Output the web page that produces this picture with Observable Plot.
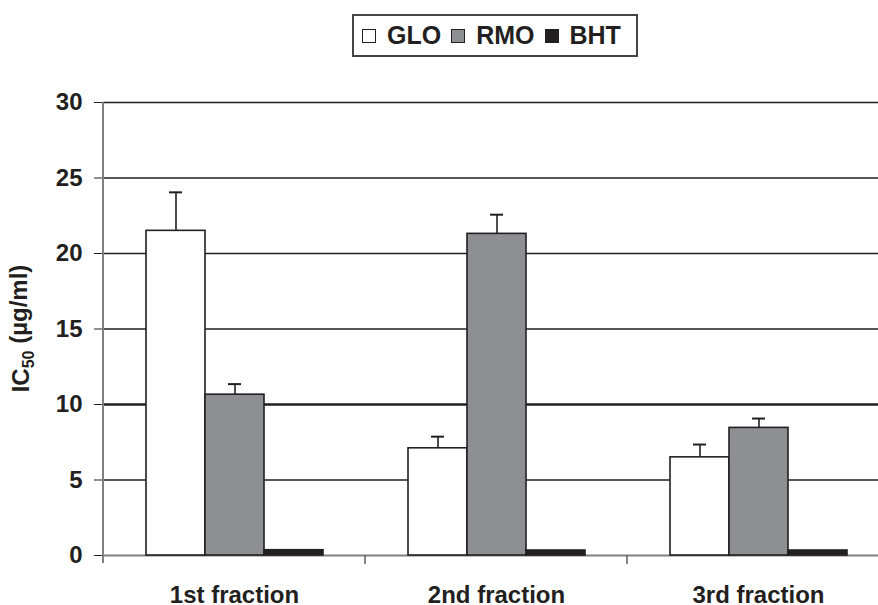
<!DOCTYPE html>
<html><head><meta charset="utf-8">
<script src="https://cdn.jsdelivr.net/npm/d3@7"></script>
<script src="https://cdn.jsdelivr.net/npm/@observablehq/plot@0.6"></script>
<style>
body{margin:0;background:#fff;font-family:"Liberation Sans",Arial,sans-serif;}
#legend{position:relative;height:70px;width:878px;}
#legend .box{position:absolute;left:352px;top:14px;width:282px;height:39px;border:2px solid #444;display:flex;align-items:center;box-sizing:content-box;padding-left:0;}
#legend .item{display:flex;align-items:center;margin-left:8px;}
#legend .sw{width:12px;height:12px;border:1.6px solid #231f20;margin-right:11px;}
#legend .lab{font-size:25px;font-weight:bold;color:#231f20;margin-right:2px;}
</style></head>
<body>
<div id="legend"><div class="box"></div></div>
<div id="chart"></div>
<script>
const fractions = ["1st fraction", "2nd fraction", "3rd fraction"];
const series = ["GLO", "RMO", "BHT"];
const gloValues = [21.5, 7.1, 6.5];
const rmoValues = [10.65, 21.3, 8.45];
const bhtValues = [0.35, 0.33, 0.33];
const gloErrorTops = [24.05, 7.87, 7.35];
const rmoErrorTops = [11.35, 22.57, 9.07];
const seriesColors = ["#ffffff", "#8e8f93", "#231f20"];
const yTicks = [0, 5, 10, 15, 20, 25, 30];

const rows = [];
fractions.forEach((f, i) => {
  rows.push({fraction: f, series: "GLO", value: gloValues[i], top: gloErrorTops[i]});
  rows.push({fraction: f, series: "RMO", value: rmoValues[i], top: rmoErrorTops[i]});
  rows.push({fraction: f, series: "BHT", value: bhtValues[i], top: null});
});
const errRows = rows.filter(d => d.top != null);

// legend
const box = d3.select("#legend .box");
series.forEach((s, i) => {
  const it = box.append("div").attr("class", "item");
  it.append("div").attr("class", "sw").style("background", seriesColors[i]);
  it.append("div").attr("class", "lab").text(s);
});

const chart = Plot.plot({
  width: 878, height: 535,
  marginTop: 32, marginBottom: 50, marginLeft: 103, marginRight: -11,
  style: {fontFamily: '"Liberation Sans", Arial, sans-serif', fontSize: "24px", fontWeight: "bold", color: "#231f20", background: "#fff", overflow: "hidden"},
  fx: {domain: fractions, padding: 0, label: null, axis: "bottom", tickSize: 0, tickPadding: 30},
  x: {domain: series, paddingOuter: 0.72, paddingInner: 0, axis: null},
  y: {domain: [0, 30], ticks: yTicks, label: null, tickSize: 9, tickPadding: 12},
  color: {domain: series, range: seriesColors},
  marks: [
    Plot.ruleY(yTicks.filter(t => t > 0 && t !== 10), {stroke: "#231f20", strokeWidth: 1.3}),
    Plot.ruleY([10], {stroke: "#231f20", strokeWidth: 2.6}),
    Plot.ruleY([0], {stroke: "#808080", strokeWidth: 1.8}),
    Plot.barY(rows, {fx: "fraction", x: "series", y: "value", fill: "series", stroke: "#231f20", strokeWidth: 1.6}),
    Plot.ruleX(errRows, {fx: "fraction", x: "series", y1: "value", y2: "top", stroke: "#231f20", strokeWidth: 1.6}),
    Plot.tickY(errRows, {fx: "fraction", x: "series", y: "top", stroke: "#231f20", strokeWidth: 2, insetLeft: 23, insetRight: 23})
  ]
});
document.getElementById("chart").appendChild(chart);

const fx = chart.scale("fx"), y = chart.scale("y");
const svg = d3.select(chart);
const y0 = y.apply(0), y30 = y.apply(30);
const left = fx.range[0];
const g = svg.append("g");
g.append("line").attr("x1", left).attr("x2", left).attr("y1", y30).attr("y2", y0 + 8)
  .attr("stroke", "#808080").attr("stroke-width", 2);
fractions.slice(1).forEach(f => {
  const bx = fx.apply(f);
  g.append("line").attr("x1", bx).attr("x2", bx).attr("y1", y0).attr("y2", y0 + 9)
    .attr("stroke", "#666").attr("stroke-width", 1.6);
});
const lab = svg.append("text")
  .attr("transform", `translate(29,${(y0 + y30) / 2}) rotate(-90)`)
  .attr("text-anchor", "middle")
  .attr("font-size", 24).attr("font-weight", "bold").attr("fill", "#231f20");
lab.append("tspan").text("IC");
lab.append("tspan").attr("font-size", 16).attr("dy", "0.3em").text("50");
lab.append("tspan").attr("dy", "-0.3em").text(" (µg/ml)");
</script>
</body></html>
